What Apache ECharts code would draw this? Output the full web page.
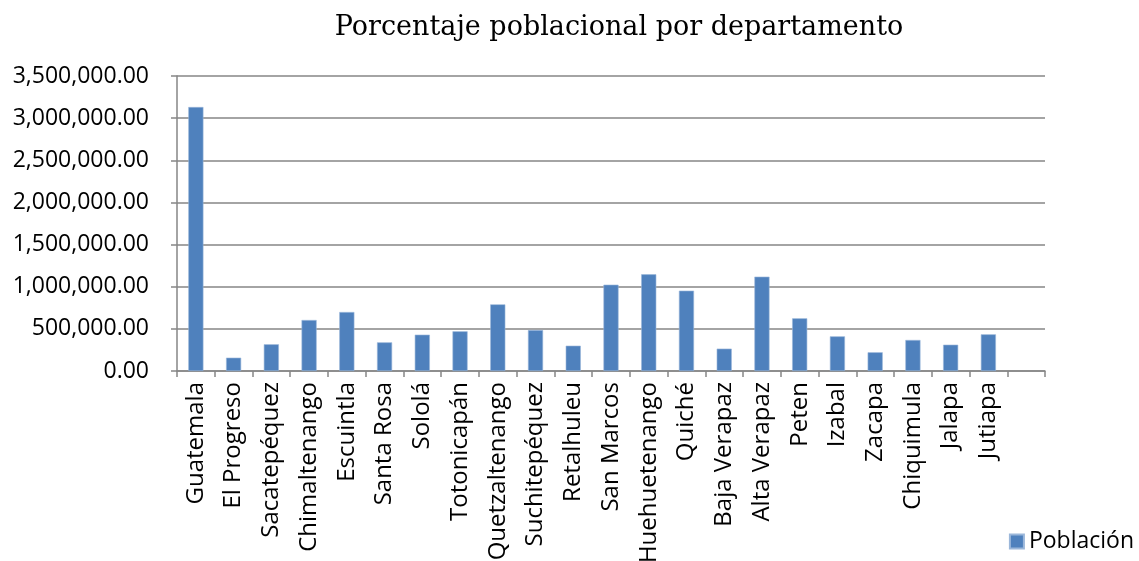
<!DOCTYPE html>
<html>
<head>
<meta charset="utf-8">
<script src="https://cdn.jsdelivr.net/npm/echarts@6/dist/echarts.min.js"></script>
<style>
  html, body { margin: 0; padding: 0; background: #fff; }
  #chart { width: 1139px; height: 561px; }
</style>
</head>
<body>
<div id="chart"></div>
<script>
// departamentos (el ultimo hueco vacio como en el original)
var departamentos = ['Guatemala', 'El Progreso', 'Sacatepéquez', 'Chimaltenango', 'Escuintla',
    'Santa Rosa', 'Sololá', 'Totonicapán', 'Quetzaltenango', 'Suchitepéquez', 'Retalhuleu',
    'San Marcos', 'Huehuetenango', 'Quiché', 'Baja Verapaz', 'Alta Verapaz', 'Peten',
    'Izabal', 'Zacapa', 'Chiquimula', 'Jalapa', 'Jutiapa', ''];
// poblacion
var poblacion = [3132000, 158000, 317000, 605000, 700000,
    340000, 431000, 471000, 791000, 486000, 300000,
    1024000, 1147000, 953000, 265000, 1119000, 625000,
    411000, 222000, 368000, 312000, 435000, null];
var yTicks = { min: 0, max: 3500000, interval: 500000 };

var chart = echarts.init(document.getElementById('chart'));

function fmt(v) {
    return v.toLocaleString('en-US', { minimumFractionDigits: 2, maximumFractionDigits: 2 });
}

var option = {
    backgroundColor: '#fff',
    animation: false,
    title: {
        text: 'Porcentaje poblacional por departamento',
        left: 614,
        textAlign: 'center',
        top: 9,
        textStyle: {
            fontFamily: 'DejaVu Serif',
            fontWeight: 'normal',
            fontSize: 27,
            color: '#000'
        }
    },
    legend: {
        right: 0,
        bottom: 3,
        itemWidth: 14,
        itemHeight: 14,
        textStyle: { fontFamily: 'Open Sans', fontSize: 23, color: '#000' },
        data: [{ name: 'Población', icon: 'rect' }]
    },
    grid: {
        left: 177,
        right: 94,
        top: 76,
        bottom: 190,
        containLabel: false,
        outerBoundsMode: 'none'
    },
    xAxis: {
        type: 'category',
        data: departamentos,
        axisLine: { lineStyle: { color: '#868686', width: 1.5 } },
        axisTick: { show: true, length: 6, lineStyle: { color: '#868686', width: 1.5 } },
        axisLabel: {
            rotate: 90,
            interval: 0,
            margin: 11,
            fontFamily: 'Open Sans',
            fontSize: 24,
            color: '#000'
        }
    },
    yAxis: {
        type: 'value',
        min: yTicks.min,
        max: yTicks.max,
        interval: yTicks.interval,
        axisLine: { show: true, lineStyle: { color: '#868686', width: 1.5 } },
        axisTick: { show: true, length: 6, lineStyle: { color: '#868686', width: 1.5 } },
        splitLine: { lineStyle: { color: '#868686', width: 1.5 } },
        axisLabel: {
            margin: 28,
            fontFamily: 'Open Sans',
            fontSize: 23,
            color: '#000',
            formatter: fmt
        }
    },
    series: [
        {
            name: 'Población',
            type: 'bar',
            data: poblacion,
            barWidth: '40%',
            itemStyle: {
                color: '#4F81BD',
                borderColor: '#9bb7da',
                borderWidth: 0.6
            }
        }
    ]
};

chart.setOption(option);
</script>
</body>
</html>
